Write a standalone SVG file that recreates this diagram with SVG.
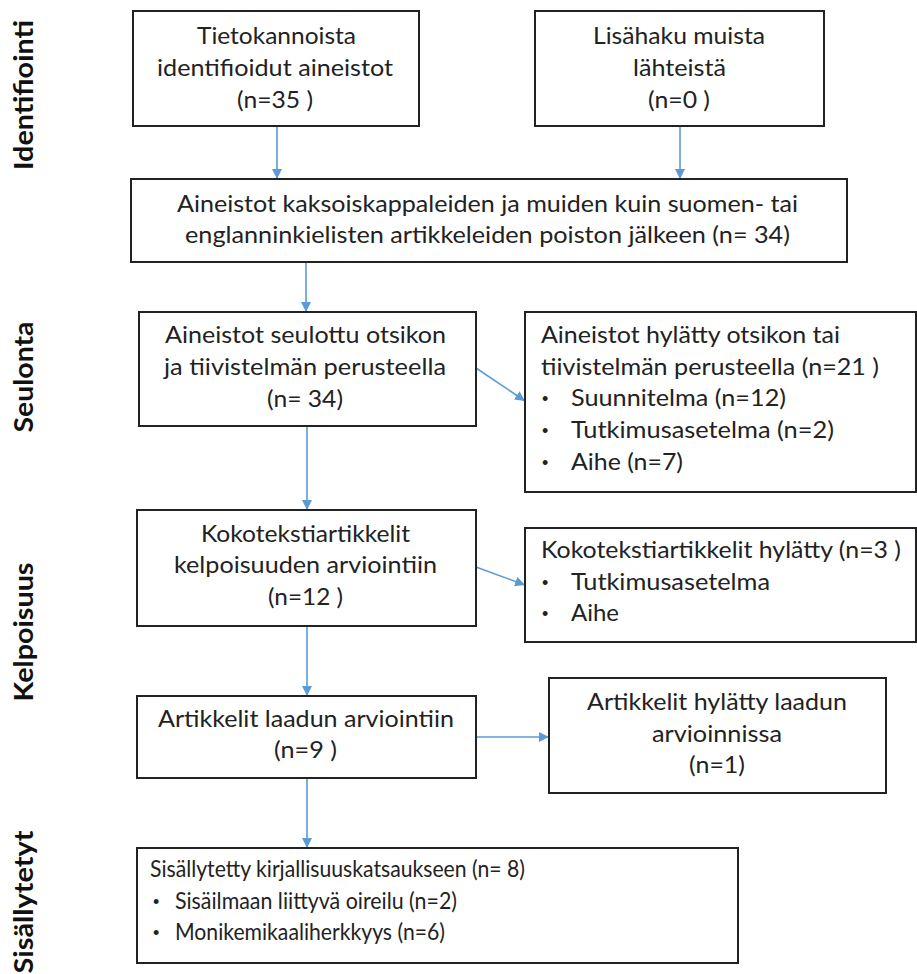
<svg xmlns="http://www.w3.org/2000/svg" width="917" height="974" viewBox="0 0 917 974">
<defs>
<style>
.box{fill:#fff;stroke:#222;stroke-width:2}
.t{font-family:Lato,"Liberation Sans",sans-serif;font-size:24px;fill:#222}
.b{font-family:"Liberation Sans",sans-serif;font-size:18px;fill:#222}
.c{text-anchor:middle}
.side{font-family:Lato,"Liberation Sans",sans-serif;font-weight:bold;font-size:27px;fill:#111}
.conn{stroke:#5b9bd5;stroke-width:1.6;fill:none}
</style>
<marker id="ah" viewBox="0 0 10 10" refX="10" refY="5" markerWidth="10" markerHeight="10" markerUnits="userSpaceOnUse" orient="auto">
<path d="M0,0 L10,5 L0,10 z" fill="#5b9bd5"/>
</marker>
</defs>
<rect width="917" height="974" fill="#fff"/>
<g id="labels">
<text class="side" text-anchor="middle" transform="translate(33,95) rotate(-90)" textLength="150" lengthAdjust="spacingAndGlyphs">Identifiointi</text>
<text class="side" text-anchor="middle" transform="translate(33,377) rotate(-90)" textLength="111" lengthAdjust="spacingAndGlyphs">Seulonta</text>
<text class="side" text-anchor="middle" transform="translate(33,632) rotate(-90)" textLength="139" lengthAdjust="spacingAndGlyphs">Kelpoisuus</text>
<text class="side" text-anchor="middle" transform="translate(33,902) rotate(-90)" textLength="143" lengthAdjust="spacingAndGlyphs">Sisällytetyt</text>
</g>
<g id="connectors">
<line class="conn" x1="277" y1="126" x2="277" y2="179" marker-end="url(#ah)"/>
<line class="conn" x1="680" y1="126" x2="680" y2="179" marker-end="url(#ah)"/>
<line class="conn" x1="306" y1="262" x2="306" y2="312" marker-end="url(#ah)"/>
<line class="conn" x1="476" y1="368" x2="525" y2="401" marker-end="url(#ah)"/>
<line class="conn" x1="307" y1="426" x2="307" y2="510" marker-end="url(#ah)"/>
<line class="conn" x1="476" y1="567" x2="525" y2="585" marker-end="url(#ah)"/>
<line class="conn" x1="307" y1="626" x2="307" y2="696" marker-end="url(#ah)"/>
<line class="conn" x1="476" y1="737" x2="549" y2="737" marker-end="url(#ah)"/>
<line class="conn" x1="307" y1="778" x2="307" y2="848" marker-end="url(#ah)"/>
</g>
<g id="n1">
<rect class="box" x="133" y="11" width="286" height="115"/>
<text class="t c" x="276.5" y="44" textLength="159" lengthAdjust="spacingAndGlyphs">Tietokannoista</text>
<text class="t c" x="275" y="76" textLength="236" lengthAdjust="spacingAndGlyphs">identifioidut aineistot</text>
<text class="t c" x="275" y="108" textLength="76" lengthAdjust="spacingAndGlyphs">(n=35 )</text>
</g>
<g id="n2">
<rect class="box" x="535" y="11" width="289" height="115"/>
<text class="t c" x="679" y="44" textLength="172" lengthAdjust="spacingAndGlyphs">Lisähaku muista</text>
<text class="t c" x="679.5" y="76" textLength="93" lengthAdjust="spacingAndGlyphs">lähteistä</text>
<text class="t c" x="679" y="108" textLength="62" lengthAdjust="spacingAndGlyphs">(n=0 )</text>
</g>
<g id="n3">
<rect class="box" x="131" y="179" width="716" height="83"/>
<text class="t c" x="487.5" y="212" textLength="621" lengthAdjust="spacingAndGlyphs">Aineistot kaksoiskappaleiden ja muiden kuin suomen- tai</text>
<text class="t c" x="487.5" y="243" textLength="605" lengthAdjust="spacingAndGlyphs">englanninkielisten artikkeleiden poiston jälkeen (n= 34)</text>
</g>
<g id="n4">
<rect class="box" x="139" y="312" width="337" height="114"/>
<text class="t c" x="305.5" y="343" textLength="281" lengthAdjust="spacingAndGlyphs">Aineistot seulottu otsikon</text>
<text class="t c" x="305" y="375" textLength="282" lengthAdjust="spacingAndGlyphs">ja tiivistelmän perusteella</text>
<text class="t c" x="305" y="407" textLength="76" lengthAdjust="spacingAndGlyphs">(n= 34)</text>
</g>
<g id="n5">
<rect class="box" x="525" y="312" width="391" height="180"/>
<text class="t" x="541" y="343" textLength="299" lengthAdjust="spacingAndGlyphs">Aineistot hylätty otsikon tai</text>
<text class="t" x="541" y="375" textLength="338" lengthAdjust="spacingAndGlyphs">tiivistelmän perusteella (n=21 )</text>
<text class="b" x="542" y="405">•</text><text class="t" x="571" y="406" textLength="215" lengthAdjust="spacingAndGlyphs">Suunnitelma (n=12)</text>
<text class="b" x="542" y="437">•</text><text class="t" x="571" y="438" textLength="263" lengthAdjust="spacingAndGlyphs">Tutkimusasetelma (n=2)</text>
<text class="b" x="542" y="469">•</text><text class="t" x="571" y="470" textLength="112" lengthAdjust="spacingAndGlyphs">Aihe (n=7)</text>
</g>
<g id="n6">
<rect class="box" x="137" y="510" width="339" height="116"/>
<text class="t c" x="305.5" y="542" textLength="209" lengthAdjust="spacingAndGlyphs">Kokotekstiartikkelit</text>
<text class="t c" x="305.5" y="573" textLength="263" lengthAdjust="spacingAndGlyphs">kelpoisuuden arviointiin</text>
<text class="t c" x="305.5" y="605" textLength="75" lengthAdjust="spacingAndGlyphs">(n=12 )</text>
</g>
<g id="n7">
<rect class="box" x="525" y="528" width="391" height="114"/>
<text class="t" x="541" y="558" textLength="360" lengthAdjust="spacingAndGlyphs">Kokotekstiartikkelit hylätty (n=3 )</text>
<text class="b" x="542" y="589">•</text><text class="t" x="571" y="590" textLength="199" lengthAdjust="spacingAndGlyphs">Tutkimusasetelma</text>
<text class="b" x="542" y="620">•</text><text class="t" x="571" y="621" textLength="48" lengthAdjust="spacingAndGlyphs">Aihe</text>
</g>
<g id="n8">
<rect class="box" x="137" y="696" width="339" height="82"/>
<text class="t c" x="306" y="727" textLength="296" lengthAdjust="spacingAndGlyphs">Artikkelit laadun arviointiin</text>
<text class="t c" x="305.5" y="758" textLength="63" lengthAdjust="spacingAndGlyphs">(n=9 )</text>
</g>
<g id="n9">
<rect class="box" x="549" y="678" width="337" height="115"/>
<text class="t c" x="717" y="710" textLength="260" lengthAdjust="spacingAndGlyphs">Artikkelit hylätty laadun</text>
<text class="t c" x="717" y="742" textLength="130" lengthAdjust="spacingAndGlyphs">arvioinnissa</text>
<text class="t c" x="717" y="773" textLength="56" lengthAdjust="spacingAndGlyphs">(n=1)</text>
</g>
<g id="n10">
<rect class="box" x="137" y="848" width="601" height="115"/>
<text class="t" x="150" y="877" textLength="375" lengthAdjust="spacingAndGlyphs">Sisällytetty kirjallisuuskatsaukseen (n= 8)</text>
<text class="b" x="153" y="908">•</text><text class="t" x="175" y="909" textLength="282" lengthAdjust="spacingAndGlyphs">Sisäilmaan liittyvä oireilu (n=2)</text>
<text class="b" x="153" y="939">•</text><text class="t" x="175" y="940" textLength="270" lengthAdjust="spacingAndGlyphs">Monikemikaaliherkkyys (n=6)</text>
</g>
</svg>
